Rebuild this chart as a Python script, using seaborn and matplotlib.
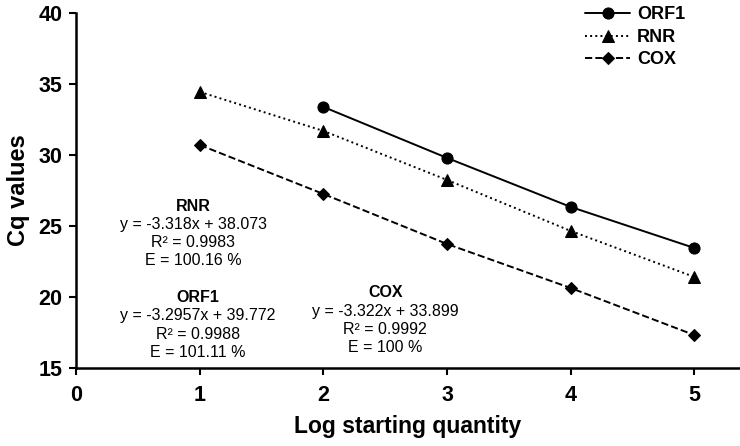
import matplotlib
matplotlib.use("Agg")
import matplotlib.pyplot as plt
import seaborn as sns
import pandas as pd

sns.set_theme(style="ticks")
plt.rcParams['font.family'] = ['Liberation Sans', 'DejaVu Sans']
plt.rcParams['text.color'] = 'black'
plt.rcParams['axes.labelcolor'] = 'black'
plt.rcParams['xtick.color'] = 'black'
plt.rcParams['ytick.color'] = 'black'

x_orf1 = [2, 3, 4, 5]
y_orf1 = [33.38, 29.79, 26.34, 23.45]
x_rnr = [1, 2, 3, 4, 5]
y_rnr = [34.44, 31.69, 28.24, 24.65, 21.41]
x_cox = [1, 2, 3, 4, 5]
y_cox = [30.70, 27.25, 23.73, 20.63, 17.32]

series_names = ["ORF1", "RNR", "COX"]
annot_titles = ["RNR", "ORF1", "COX"]
annot_lines = [
    ["y = -3.318x + 38.073", "R² = 0.9983", "E = 100.16 %"],
    ["y = -3.2957x + 39.772", "R² = 0.9988", "E = 101.11 %"],
    ["y = -3.322x + 33.899", "R² = 0.9992", "E = 100 %"],
]

df = pd.concat([
    pd.DataFrame({"x": x_orf1, "y": y_orf1, "s": "ORF1"}),
    pd.DataFrame({"x": x_rnr, "y": y_rnr, "s": "RNR"}),
    pd.DataFrame({"x": x_cox, "y": y_cox, "s": "COX"}),
])

fig = plt.figure(figsize=(7.4, 4.46), dpi=100)
ax = fig.add_axes([0.103, 0.175, 0.897, 0.796])

styles = {"ORF1": ("-", "o", 8), "RNR": (":", "^", 8), "COX": ("--", "D", 6)}
for name in series_names:
    sub = df[df["s"] == name]
    ls, mk, ms = styles[name]
    sns.lineplot(data=sub, x="x", y="y", ax=ax, color="black", linestyle=ls,
                 marker=mk, markersize=ms, linewidth=1.4, label=name,
                 markeredgecolor="black", markerfacecolor="black")

ax.set_xlim(0, 5.37)
ax.set_ylim(15, 40)
ax.set_xticks([0, 1, 2, 3, 4, 5])
ax.set_yticks([15, 20, 25, 30, 35, 40])
for s in ["top", "right"]:
    ax.spines[s].set_visible(False)
for s in ["left", "bottom"]:
    ax.spines[s].set_linewidth(1.8)
    ax.spines[s].set_color("black")
ax.tick_params(axis="both", direction="out", length=5, width=1.5, colors="black",
               labelsize=15.5)
for lab in ax.get_xticklabels() + ax.get_yticklabels():
    lab.set_fontweight("bold")
ax.tick_params(axis="x", pad=7)
ax.tick_params(axis="y", pad=5)
ax.set_xlabel("Log starting quantity", fontsize=16.5, fontweight="bold", labelpad=7)
ax.set_ylabel("Cq values", fontsize=17, fontweight="bold", labelpad=6)

leg = ax.legend(loc="upper left", bbox_to_anchor=(0.7425, 1.064), frameon=False,
                handlelength=2.5, handletextpad=0.35, labelspacing=0.3,
                prop={"weight": "bold", "size": 13})

pos = [(0.947, 26.36), (0.983, 19.93), (2.5, 20.28)]
for (px, py), title, lines in zip(pos, annot_titles, annot_lines):
    ax.text(px, py, title, ha="center", va="center", fontsize=11.5, fontweight="bold")
    for i, t in enumerate(lines):
        ax.text(px, py - 1.27 * (i + 1), t, ha="center", va="center", fontsize=11.5)

fig.savefig("out.png", dpi=100)
